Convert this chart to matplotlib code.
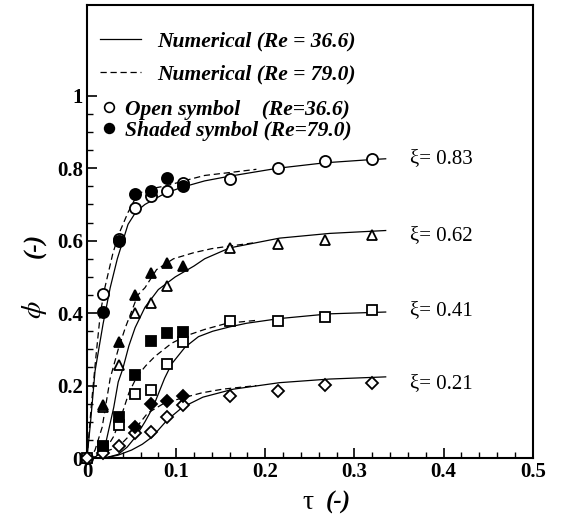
import matplotlib
matplotlib.use("Agg")
import matplotlib.pyplot as plt
from matplotlib.lines import Line2D
from matplotlib.ticker import FixedLocator

plt.rcParams["font.family"] = ["Liberation Serif", "DejaVu Serif"]
plt.rcParams["mathtext.fontset"] = "stix"

# measured points (tau)
tau = [0.0, 0.018, 0.036, 0.054, 0.072, 0.090, 0.108, 0.160, 0.214, 0.267, 0.320]
tau_shaded = [0.018, 0.036, 0.054, 0.072, 0.090, 0.108]

# open symbols, Re = 36.6
phi_083_open = [0.0, 0.452, 0.605, 0.690, 0.724, 0.736, 0.760, 0.769, 0.800, 0.820, 0.826]
phi_062_open = [0.0, 0.140, 0.256, 0.400, 0.427, 0.474, None, 0.580, 0.590, 0.603, 0.615]
phi_041_open = [0.0, 0.030, 0.091, 0.176, 0.187, 0.260, 0.320, 0.377, 0.377, 0.388, 0.408]
phi_021_open = [0.0, 0.014, 0.033, 0.068, 0.072, 0.113, 0.146, 0.172, 0.185, 0.201, 0.207]

# shaded symbols, Re = 79.0
phi_083_shaded = [0.402, 0.600, 0.730, 0.736, 0.772, 0.750]
phi_062_shaded = [0.146, 0.320, 0.449, 0.510, 0.537, 0.529]
phi_041_shaded = [0.033, 0.113, 0.229, 0.322, 0.344, 0.347]
phi_021_shaded = [None, None, 0.085, 0.149, 0.157, 0.170]

# numerical, Re = 36.6 (solid)
num36_083_t = [0.0, 0.004, 0.009, 0.018, 0.026, 0.034, 0.046, 0.055, 0.065, 0.087, 0.106, 0.132, 0.160, 0.214, 0.267, 0.320, 0.335]
num36_083_p = [0.0, 0.10, 0.24, 0.37, 0.47, 0.55, 0.645, 0.68, 0.70, 0.73, 0.747, 0.765, 0.778, 0.800, 0.815, 0.824, 0.826]
num36_062_t = [0.0, 0.010, 0.020, 0.030, 0.035, 0.040, 0.047, 0.054, 0.065, 0.080, 0.099, 0.120, 0.132, 0.160, 0.216, 0.272, 0.335]
num36_062_p = [0.0, 0.004, 0.03, 0.14, 0.21, 0.245, 0.31, 0.36, 0.416, 0.465, 0.50, 0.53, 0.55, 0.58, 0.607, 0.620, 0.628]
num36_041_t = [0.0, 0.020, 0.035, 0.045, 0.055, 0.065, 0.074, 0.087, 0.095, 0.110, 0.125, 0.141, 0.160, 0.179, 0.216, 0.272, 0.335]
num36_041_p = [0.0, 0.0, 0.01, 0.03, 0.06, 0.10, 0.14, 0.22, 0.26, 0.306, 0.335, 0.350, 0.362, 0.372, 0.385, 0.398, 0.403]
num36_021_t = [0.0, 0.020, 0.035, 0.050, 0.062, 0.073, 0.090, 0.107, 0.130, 0.164, 0.216, 0.272, 0.335]
num36_021_p = [0.0, 0.0, 0.008, 0.022, 0.038, 0.058, 0.105, 0.140, 0.168, 0.190, 0.208, 0.218, 0.224]

# numerical, Re = 79.0 (dashed)
num79_083_t = [0.0, 0.005, 0.010, 0.015, 0.020, 0.029, 0.036, 0.046, 0.057, 0.073, 0.090, 0.110, 0.132, 0.160, 0.190]
num79_083_p = [0.0, 0.15, 0.28, 0.40, 0.47, 0.565, 0.62, 0.678, 0.73, 0.744, 0.752, 0.766, 0.780, 0.788, 0.797]
num79_062_t = [0.0, 0.005, 0.009, 0.017, 0.026, 0.035, 0.043, 0.057, 0.065, 0.078, 0.097, 0.120, 0.140, 0.160, 0.190]
num79_062_p = [0.0, 0.005, 0.022, 0.085, 0.22, 0.30, 0.36, 0.45, 0.47, 0.52, 0.55, 0.567, 0.578, 0.585, 0.595]
num79_041_t = [0.0, 0.010, 0.020, 0.030, 0.039, 0.047, 0.056, 0.066, 0.076, 0.095, 0.113, 0.132, 0.157, 0.190]
num79_041_p = [0.0, 0.005, 0.02, 0.06, 0.12, 0.18, 0.225, 0.255, 0.28, 0.317, 0.339, 0.355, 0.372, 0.380]
num79_021_t = [0.0, 0.013, 0.035, 0.050, 0.068, 0.087, 0.106, 0.129, 0.152, 0.190]
num79_021_p = [0.0, 0.012, 0.030, 0.068, 0.124, 0.152, 0.165, 0.180, 0.190, 0.200]

xi_labels = ["\u03be= 0.83", "\u03be= 0.62", "\u03be= 0.41", "\u03be= 0.21"]
xi_label_y = [0.826, 0.614, 0.408, 0.207]

x_ticks = [0.0, 0.1, 0.2, 0.3, 0.4, 0.5]
x_ticklabels = ["0", "0.1", "0.2", "0.3", "0.4", "0.5"]
y_ticks = [0.0, 0.2, 0.4, 0.6, 0.8, 1.0]
y_ticklabels = ["0", "0.2", "0.4", "0.6", "0.8", "1"]


def pairs(xs, ys):
    pts = [(x, y) for x, y in zip(xs, ys) if y is not None]
    return [p[0] for p in pts], [p[1] for p in pts]


fig = plt.figure(figsize=(5.65, 5.19), dpi=100)
ax = fig.add_axes([0.154, 0.1175, 0.789, 0.8725])

lw = 0.9
dash = (0, (5, 3))
solid = [(num36_083_t, num36_083_p), (num36_062_t, num36_062_p),
         (num36_041_t, num36_041_p), (num36_021_t, num36_021_p)]
dashed = [(num79_083_t, num79_083_p), (num79_062_t, num79_062_p),
          (num79_041_t, num79_041_p), (num79_021_t, num79_021_p)]
for t, p in solid:
    ax.plot(t, p, color="black", lw=lw, zorder=2)
for t, p in dashed:
    ax.plot(t, p, color="black", lw=lw, ls=dash, zorder=2)

markers = ["o", "^", "s", "D"]
sizes = [8, 7.5, 6.5, 6]
opens = [phi_083_open, phi_062_open, phi_041_open, phi_021_open]
shadeds = [phi_083_shaded, phi_062_shaded, phi_041_shaded, phi_021_shaded]
for m, ms, po, ps in zip(markers, sizes, opens, shadeds):
    x, y = pairs(tau, po)
    ax.plot(x, y, ls="none", marker=m, ms=ms, mfc="white", mec="black", mew=1.3,
            zorder=3, clip_on=False)
    x, y = pairs(tau_shaded, ps)
    ax.plot(x, y, ls="none", marker=m, ms=ms, mfc="black", mec="black", mew=1.3,
            zorder=4, clip_on=False)

for lab, yv in zip(xi_labels, xi_label_y):
    ax.text(0.362, yv, lab, fontsize=15, va="center", ha="left")

ax.set_xlim(0, 0.5)
ax.set_ylim(0, 1.25)
ax.xaxis.set_major_locator(FixedLocator(x_ticks))
ax.xaxis.set_minor_locator(FixedLocator([i * 0.02 for i in range(26)]))
ax.yaxis.set_major_locator(FixedLocator(y_ticks))
ax.yaxis.set_minor_locator(FixedLocator([i * 0.05 for i in range(21)]))
ax.set_xticklabels(x_ticklabels)
ax.set_yticklabels(y_ticklabels)
ax.tick_params(which="both", direction="in", top=False, right=False)
ax.tick_params(which="major", length=7, width=1.2, labelsize=15, pad=3)
ax.tick_params(which="minor", length=4, width=1.0)
for lbl in ax.get_xticklabels() + ax.get_yticklabels():
    lbl.set_fontweight("bold")
for s in ax.spines.values():
    s.set_linewidth(1.5)

# axis titles: greek symbol upright, "(-)" bold italic
ax.text(0.496, -0.099, "\u03c4", transform=ax.transAxes, fontsize=20,
        ha="center", va="center")
ax.text(0.563, -0.099, "(-)", transform=ax.transAxes, fontsize=18,
        fontweight="bold", style="italic", ha="center", va="center")
ax.text(-0.117, 0.327, r"$\phi$", transform=ax.transAxes, fontsize=20,
        rotation=90, ha="center", va="center")
ax.text(-0.117, 0.47, "(-)", transform=ax.transAxes, fontsize=18, rotation=90,
        fontweight="bold", style="italic", ha="center", va="center")

lfont = {"family": "Liberation Serif", "weight": "bold", "style": "italic", "size": 15.5}
h1 = [Line2D([], [], color="black", lw=lw),
      Line2D([], [], color="black", lw=lw, ls=dash)]
leg1 = ax.legend(h1, ["Numerical (Re = 36.6)", "Numerical (Re = 79.0)"],
                 loc="upper left", bbox_to_anchor=(0.0, 0.97), frameon=False,
                 prop=lfont, handlelength=1.9, handletextpad=0.75, labelspacing=0.6,
                 borderaxespad=0.3, borderpad=0.3)
ax.add_artist(leg1)
h2 = [Line2D([], [], ls="none", marker="o", ms=7, mfc="white", mec="black", mew=1.2),
      Line2D([], [], ls="none", marker="o", ms=7, mfc="black", mec="black", mew=1.2)]
ax.legend(h2, ["Open symbol    (Re=36.6)", "Shaded symbol (Re=79.0)"],
          loc="upper left", bbox_to_anchor=(0.0, 0.82), frameon=False,
          prop=lfont, handlelength=0.8, handletextpad=0.35, labelspacing=0.05,
          borderaxespad=0.3, borderpad=0.3)

fig.savefig("out.png", dpi=100)
